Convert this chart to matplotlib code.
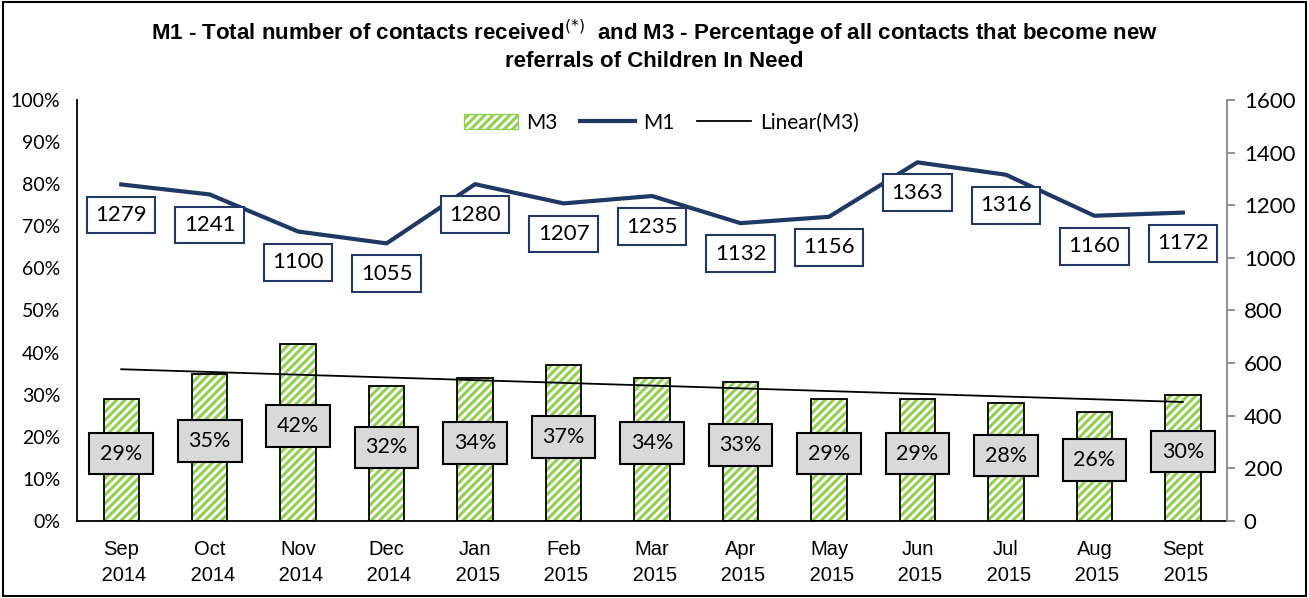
import numpy as np
import matplotlib
matplotlib.use('Agg')
from matplotlib import pyplot as plt
from matplotlib.patches import Rectangle, Patch
from matplotlib.lines import Line2D

months = ['Sep\n 2014', 'Oct\n 2014', 'Nov\n 2014', 'Dec\n 2014', 'Jan\n 2015', 'Feb\n 2015',
          'Mar\n 2015', 'Apr\n 2015', 'May\n 2015', 'Jun\n 2015', 'Jul\n 2015', 'Aug\n 2015',
          'Sept\n 2015']
m3 = [29, 35, 42, 32, 34, 37, 34, 33, 29, 29, 28, 26, 30]
m1 = [1279, 1241, 1100, 1055, 1280, 1207, 1235, 1132, 1156, 1363, 1316, 1160, 1172]

green = '#92d050'
navy = '#1f3864'
lab_font = ['Lato', 'DejaVu Sans']
tick_font = ['Liberation Sans', 'DejaVu Sans']
plt.rcParams['hatch.linewidth'] = 2.2

fig = plt.figure(figsize=(13.09, 5.98), dpi=100)
ax = fig.add_axes([0.0588, 0.1288, 0.8786, 0.704])
ax2 = ax.twinx()

x = np.arange(len(m3))

# bars: green hatch, then black outline
ax.bar(x, m3, width=0.4, color='white', edgecolor=green, hatch='////', lw=0, zorder=2)
ax.bar(x, m3, width=0.4, fill=False, edgecolor='black', lw=1.3, zorder=3)

# linear trend of M3
k, b = np.polyfit(x, m3, 1)
ax.plot(x, k * x + b, color='black', lw=1.3, zorder=4)

for i, v in enumerate(m3):
    ax.text(i, v / 2 + 1.5, f'{v}%', ha='center', va='center', fontsize=15.5,
            family=lab_font, zorder=6,
            bbox=dict(boxstyle='square,pad=0.5', fc='#d9d9d9', ec='black', lw=1.5))

ax.set_xlim(-0.5, len(m3) - 0.5)
ax.set_ylim(0, 100)
ax.set_yticks(np.arange(0, 101, 10))
ax.set_yticklabels([f'{t}%' for t in range(0, 101, 10)], family=lab_font, fontsize=14)
ax.tick_params(axis='y', length=0, pad=12)
ax.set_xticks(x)
ax.set_xticklabels(months, family=tick_font, fontsize=14.5, linespacing=1.45)
ax.tick_params(axis='x', length=0, pad=14)
for s in ['top', 'right']:
    ax.spines[s].set_visible(False)
ax.spines['left'].set_linewidth(1.3)
ax.spines['bottom'].set_linewidth(1.3)

# M1 line on the right axis
ax2.plot(x, m1, color=navy, lw=3, zorder=5)
for i, v in enumerate(m1):
    ax2.annotate(str(v), (i, v), xytext=(0, -22), textcoords='offset points',
                 ha='center', va='center', fontsize=16, family=lab_font, zorder=7,
                 bbox=dict(boxstyle='square,pad=0.38', fc='white', ec=navy, lw=1.5))
ax2.set_ylim(0, 1600)
ax2.set_yticks(np.arange(0, 1601, 200))
ax2.set_yticklabels([str(t) for t in range(0, 1601, 200)], family=lab_font, fontsize=16)
ax2.tick_params(axis='y', color='#888888', length=6, width=1.3, pad=6)
for s in ['top', 'left', 'bottom']:
    ax2.spines[s].set_visible(False)
ax2.spines['right'].set_color('#888888')
ax2.spines['right'].set_linewidth(1.3)

handles = [Patch(facecolor='white', edgecolor=green, hatch='////', label='M3'),
           Line2D([], [], color=navy, lw=3, label='M1'),
           Line2D([], [], color='black', lw=1.3, label='Linear(M3)')]
fig.legend(handles=handles, loc='center', bbox_to_anchor=(0.505, 0.795), ncol=3,
           frameon=False, prop={'family': lab_font, 'size': 15},
           handlelength=2.6, columnspacing=1.1, handletextpad=0.4)

fig.text(0.5, 0.925, 'M1 - Total number of contacts received$^{(*)}$  and M3 - Percentage of all contacts that become new\nreferrals of Children In Need',
         ha='center', va='center', fontsize=16, fontweight='bold',
         family=['Liberation Sans Narrow', 'Liberation Sans', 'DejaVu Sans'], linespacing=1.2)

fig.patches.append(Rectangle((0.002, 0.003), 0.996, 0.994, transform=fig.transFigure,
                             fill=False, ec='black', lw=1.5))

fig.savefig('out.png', dpi=100)
